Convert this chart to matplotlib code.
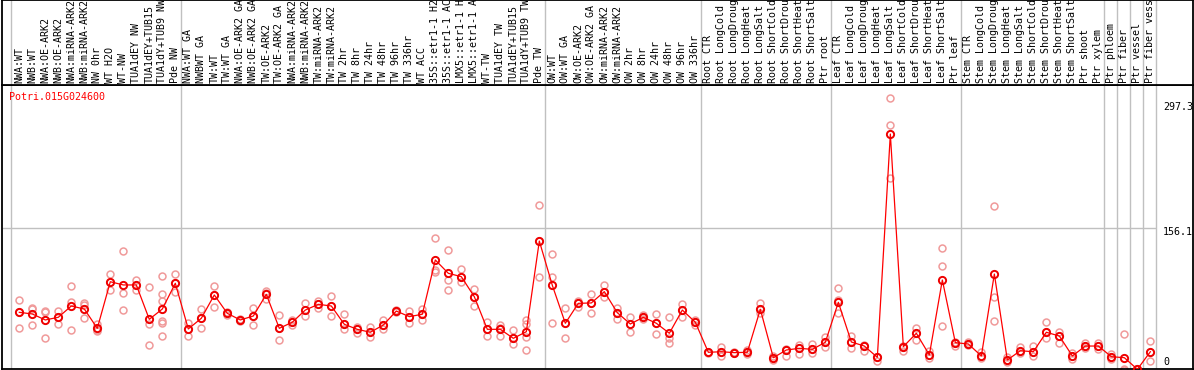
"""Expression profile of one poplar gene across samples (eFP-like strip chart)."""

import matplotlib
matplotlib.use('Agg')
import matplotlib.pyplot as plt
import numpy


gene = 'Potri.015G024600'

labels = [
    'NWA:WT', 'NWB:WT', 'NWA:OE-ARK2', 'NWB:OE-ARK2', 'NWA:miRNA-ARK2',
    'NWB:miRNA-ARK2', 'NW 0hr', 'WT H2O', 'WT-NW', 'TUA1dEY NW',
    'TUA1dEY+TUB15', 'TUA1dY+TUB9 NW', 'Pde NW',
    'NWA:WT GA', 'NWBWT GA', 'TW:WT', 'TW:WT GA', 'NWA:OE-ARK2 GA',
    'NWB:OE-ARK2 GA', 'TW:OE-ARK2', 'TW:OE-ARK2 GA', 'NWA:miRNA-ARK2',
    'NWB:miRNA-ARK2', 'TW:miRNA-ARK2', 'TW:miRNA-ARK2', 'TW 2hr', 'TW 8hr',
    'TW 24hr', 'TW 48hr', 'TW 96hr', 'TW 336hr', 'WT ACC', '35S::etr1-1 H2',
    '35S::etr1-1 AC', 'LMX5::etr1-1 H', 'LMX5::etr1-1 A', 'WT-TW',
    'TUA1dEY TW', 'TUA1dEY+TUB15', 'TUA1dY+TUB9 TW', 'Pde TW',
    'OW:WT', 'OW:WT GA', 'OW:OE-ARK2', 'OW:OE-ARK2 GA', 'OW:miRNA-ARK2',
    'OW:miRNA-ARK2', 'OW 2hr', 'OW 8hr', 'OW 24hr', 'OW 48hr', 'OW 96hr',
    'OW 336hr',
    'Root CTR', 'Root LongCold', 'Root LongDroug', 'Root LongHeat',
    'Root LongSalt', 'Root ShortCold', 'Root ShortDrou', 'Root ShortHeat',
    'Root ShortSalt', 'Ptr root',
    'Leaf CTR', 'Leaf LongCold', 'Leaf LongDroug', 'Leaf LongHeat',
    'Leaf LongSalt', 'Leaf ShortCold', 'Leaf ShortDrou', 'Leaf ShortHeat',
    'Leaf ShortSalt', 'Ptr leaf',
    'Stem CTR', 'Stem LongCold', 'Stem LongDroug', 'Stem LongHeat',
    'Stem LongSalt', 'Stem ShortCold', 'Stem ShortDrou', 'Stem ShortHeat',
    'Stem ShortSalt', 'Ptr shoot', 'Ptr xylem',
    'Ptr phloem', 'Ptr fiber', 'Ptr vessel', 'Ptr fiber vess',
]

# first index of every sample group (last entry closes the final group)
group_starts = [0, 13, 41, 53, 63, 73, 84, 85, 86, 87, 88]

means = [
    64.3, 62.5, 56.0, 58.9, 71.2, 67.9, 46.9, 97.6, 94.1, 94.1, 56.7, 67.9, 95.9,
    46.2, 57.8, 83.2, 63.2, 56.0, 60.3, 83.9, 46.9, 53.5, 66.8, 73.0, 71.2, 51.3,
    45.8, 42.6, 50.5, 65.7, 59.6, 62.2, 121.3, 106.8, 103.1, 81.3, 45.8, 45.8,
    36.0, 43.2, 141.9,
    93.7, 52.4, 74.1, 74.5, 86.8, 63.9, 51.6, 58.9, 52.4, 41.5, 66.8, 53.5,
    20.8, 21.4, 20.4, 20.8, 67.6, 14.9, 23.3, 25.1, 24.0, 31.7,
    75.2, 32.0, 27.6, 15.3, 258.4, 26.9, 41.5, 17.9, 99.5, 31.3,
    29.8, 16.8, 106.0, 12.4, 22.5, 21.4, 42.6, 38.5, 16.8, 27.6, 27.6,
    16.0, 14.9, 2.3, 21.4,
]

replicates = [
    [77.7, 64.3, 46.9], [69.3, 67.9, 50.2], [65.7, 64.3, 36.4], [65.7, 58.9, 51.3],
    [93.0, 75.9, 45.1], [74.1, 72.3, 57.8], [51.3, 45.1, 44.0], [105.7, 97.6, 88.6],
    [131.1, 85.0, 66.8], [99.5, 94.1, 88.6], [91.5, 51.3, 28.7],
    [103.9, 84.3, 76.6, 55.2, 53.0, 38.5], [106.0, 95.9, 86.1],
    [53.0, 46.2, 38.5], [67.9, 57.8, 46.9], [93.0, 83.2, 70.4], [64.3, 63.2, 61.8],
    [57.0, 56.0, 55.0], [69.3, 60.3, 50.2], [87.9, 85.5, 79.0], [61.4, 46.9, 34.2],
    [56.0, 53.5, 51.0], [74.1, 66.8, 60.3], [77.0, 73.0, 68.7], [82.1, 71.2, 60.3],
    [62.2, 51.3, 45.8], [48.7, 45.8, 41.5], [48.7, 42.6, 37.8], [56.0, 50.5, 45.8],
    [67.0, 65.7, 64.5], [65.7, 59.6, 52.4], [67.9, 62.2, 56.0],
    [144.9, 110.4, 108.5], [132.2, 99.5, 88.6], [111.5, 103.1, 97.0],
    [89.4, 81.3, 71.2], [54.1, 45.8, 38.9], [50.5, 47.5, 38.5], [45.1, 36.0, 29.5],
    [56.0, 52.0, 37.8, 23.3], [181.1, 141.9, 102.4],
    [127.8, 102.4, 52.4], [68.7, 52.4, 36.0], [77.0, 74.1, 70.4], [84.3, 74.5, 63.5],
    [94.1, 86.8, 81.3], [69.3, 63.9, 56.7], [58.9, 51.6, 43.2], [61.0, 58.9, 56.7],
    [62.5, 52.4, 40.7], [58.9, 36.0, 30.6], [73.4, 66.8, 58.9], [55.5, 53.5, 50.5],
    [21.5, 20.8, 20.0], [26.2, 21.4, 16.8], [21.0, 20.4, 19.8], [23.0, 20.8, 18.5],
    [74.8, 67.6, 63.9], [16.8, 14.9, 12.4], [24.0, 23.3, 16.8], [28.7, 25.1, 18.9],
    [29.8, 24.0, 20.4], [37.1, 31.7, 26.2],
    [90.5, 78.0, 63.2], [38.5, 32.0, 25.1], [29.0, 27.6, 22.5], [16.0, 15.3, 11.6],
    [297.3, 268.2, 210.2], [27.6, 26.9, 22.5], [47.6, 41.5, 34.2], [22.5, 17.9, 14.3],
    [134.0, 114.7, 49.4], [32.3, 31.3, 27.6],
    [32.3, 29.8, 28.5], [21.4, 16.8, 14.3], [180.0, 81.3, 54.9], [15.3, 12.4, 9.8],
    [26.9, 22.5, 19.7], [27.6, 21.4, 16.8], [53.5, 42.6, 36.0], [43.2, 38.5, 30.6],
    [19.7, 16.8, 13.2], [30.6, 27.6, 26.0], [30.6, 27.6, 24.0],
    [18.9, 16.0, 13.2], [40.4, 2.3, 2.0], [2.3, 2.3], [33.1, 21.4, 11.3],
]

y_marks = [0, 156.1, 297.3]
y_marks_text = ['0', '156.1', '297.3']


W, H = 1194, 370
XLIM = (-1.33, 90.28)
YLIM = (2.6, 311.8)
GRID = '#c0c0c0'
MONO = 'DejaVu Sans Mono'
FS = 7.2

fig = plt.figure(figsize=(W / 100, H / 100), dpi=100)

# main plotting area and the header strip with the sample names
ax = fig.add_axes([2 / W, 1 / H, 1191 / W, 284 / H])
head = fig.add_axes([2 / W, 285 / H, 1191 / W, 85 / H], sharex=ax)

ax.set_xlim(*XLIM)
ax.set_ylim(*YLIM)
head.set_ylim(85, 0)

for a in (ax, head):
    a.set_xticks([])
    a.set_yticks([])
    for s in a.spines.values():
        s.set_color('black')
        s.set_linewidth(1.3)

# group separators run through both panels
for b in group_starts:
    for a in (ax, head):
        a.axvline(b - 0.6, color=GRID, lw=1.0, zorder=1)

ax.hlines(156.1, XLIM[0], group_starts[-1] - 0.6, color=GRID, lw=1.0, zorder=1)

x = numpy.arange(len(means))

# individual replicates first, then the mean line on top
for i, vals in enumerate(replicates):
    ax.plot([i] * len(vals), vals, 'o', ms=5, mfc='none', mec='#f09a9a',
            mew=1.1, zorder=2, clip_on=True)
ax.plot(x, means, '-', color='red', lw=0.9, zorder=3)
ax.plot(x, means, 'o', ms=5.2, mfc='none', mec='#ee0000', mew=1.4, zorder=4)

ax.text(-0.8, 298.7, gene, color='red', family=MONO, fontsize=FS,
        ha='left', va='center')

# value labels on the right side, inside the frame
label_y = {'0': 10.6, '156.1': 151.8, '297.3': 288.2}
for v, t in zip(y_marks, y_marks_text):
    ax.text(87.98, label_y[t], t, family=MONO, fontsize=FS, ha='left',
            va='center', color='black')

for i, name in enumerate(labels):
    head.text(i, 83, name, rotation=90, family=MONO, fontsize=FS,
              ha='center', va='bottom', color='black', clip_on=True)

fig.savefig('out.png', dpi=100)
